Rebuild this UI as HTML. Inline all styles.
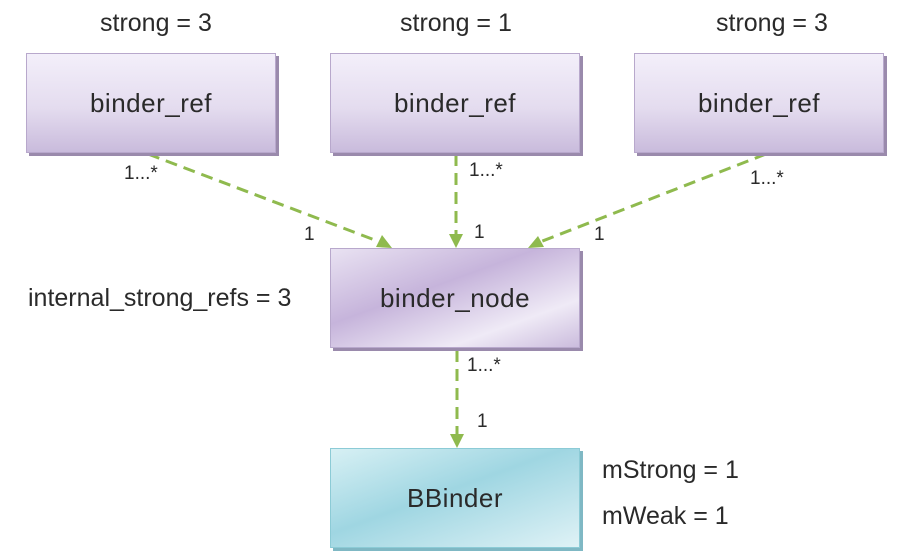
<!DOCTYPE html>
<html><head><style>
body{margin:0;width:904px;height:554px;background:#fff;position:relative;font-family:"Liberation Sans","DejaVu Sans",sans-serif;color:#2a2a2a;overflow:hidden}
.b{position:absolute;width:248px;height:98px;border:1px solid #b8a8cc;box-shadow:3px 3px 0 #9a8aac;display:flex;align-items:center;justify-content:center;font-size:26px;letter-spacing:0.5px;
background:linear-gradient(180deg,#f3effa 0%,#e4dcef 55%,#c9bbdc 100%)}
.n{background:linear-gradient(160deg,#e9e2f2 0%,#c6b4db 40%,#efeaf6 75%,#cbbcdd 100%)}
.c{border-color:#8ccbd6;box-shadow:3px 3px 0 #7fb8c4;background:linear-gradient(160deg,#d7f0f4 0%,#9fd6e2 45%,#dff2f6 100%)}
.t{position:absolute;font-size:25px;white-space:nowrap}
.s{font-size:19px}
</style></head><body>
<svg width="904" height="554" style="position:absolute;left:0;top:0">
<g stroke="#8fba4e" stroke-width="3" stroke-dasharray="12,7" fill="none">
<line x1="148" y1="154" x2="380" y2="242"/>
<line x1="456" y1="154" x2="456" y2="236"/>
<line x1="766" y1="154" x2="540" y2="242"/>
<line x1="457" y1="350" x2="457" y2="436"/>
</g>
<g fill="#8fba4e">
<polygon points="392,248 376,247 382,235"/>
<polygon points="456,248 449,234 463,234"/>
<polygon points="528,248 538,236 544,247"/>
<polygon points="457,448 450,434 464,434"/>
</g>
</svg>
<div class="t" style="left:100px;top:9px">strong = 3</div>
<div class="t" style="left:400px;top:9px">strong = 1</div>
<div class="t" style="left:716px;top:9px">strong = 3</div>
<div class="b" style="left:26px;top:53px">binder_ref</div>
<div class="b" style="left:330px;top:53px">binder_ref</div>
<div class="b" style="left:634px;top:53px">binder_ref</div>
<div class="b n" style="left:330px;top:248px">binder_node</div>
<div class="b c" style="left:330px;top:448px">BBinder</div>
<div class="t s" style="left:124px;top:163px">1...*</div>
<div class="t s" style="left:469px;top:160px">1...*</div>
<div class="t s" style="left:750px;top:168px">1...*</div>
<div class="t s" style="left:304px;top:224px">1</div>
<div class="t s" style="left:474px;top:222px">1</div>
<div class="t s" style="left:594px;top:224px">1</div>
<div class="t s" style="left:467px;top:355px">1...*</div>
<div class="t s" style="left:477px;top:411px">1</div>
<div class="t" style="left:28px;top:284px">internal_strong_refs = 3</div>
<div class="t" style="left:602px;top:456px">mStrong = 1</div>
<div class="t" style="left:602px;top:502px">mWeak = 1</div>
</body></html>
